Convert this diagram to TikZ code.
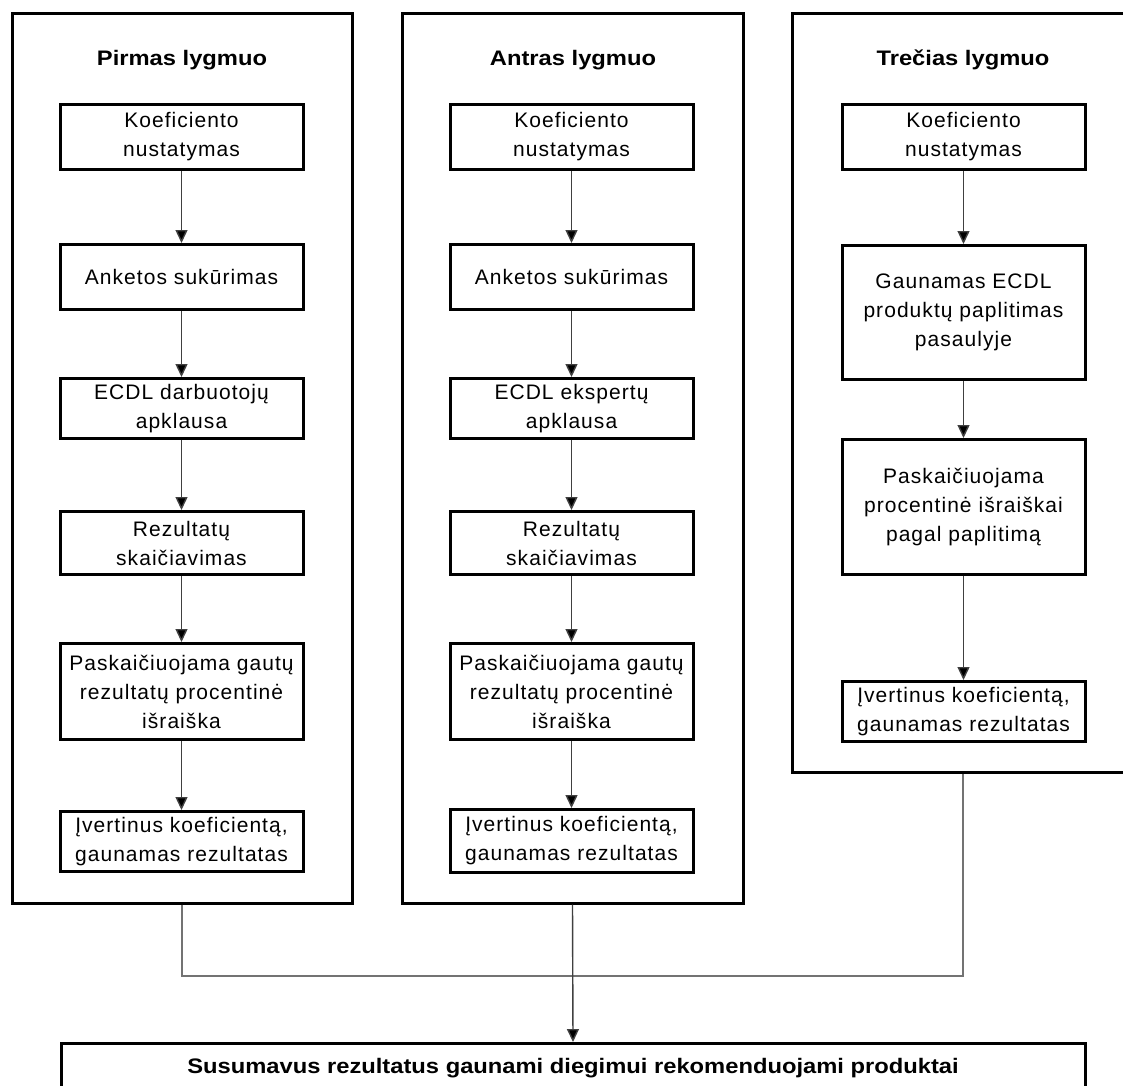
\documentclass[tikz,border=0pt]{standalone}
\usepackage{fontspec}
\setmainfont{Liberation Sans}
\newfontfamily\spaced[LetterSpace=5]{Liberation Sans}
\newfontfamily\widebold{Liberation Sans}[UprightFont=* Bold, FakeStretch=1.13]
\usetikzlibrary{arrows.meta}
\tikzset{
  outerbox/.style={draw, line width=3pt, inner sep=0pt},
  stepbox/.style={draw, line width=3pt, minimum width=243pt, inner sep=0pt, align=center,
    font=\spaced\fontsize{21}{29}\selectfont, anchor=north},
  ttl/.style={font=\widebold\fontsize{21}{25}\selectfont},
  arr/.style={line width=1.4pt, draw=black!75, -{Triangle[width=12pt,length=13pt,fill=black]}},
  joinline/.style={line width=1.6pt, draw=black!55},
}
\begin{document}
\begin{tikzpicture}[x=1pt,y=-1pt]
\useasboundingbox (0,0) rectangle (1123,1085);
\clip (0,0) rectangle (1123,1085);
% outer level boxes
\node[outerbox, minimum width=340pt, minimum height=890pt] (L1) at (182,458) {};
\node[outerbox, minimum width=341pt, minimum height=890pt] (L2) at (572.5,458) {};
\node[outerbox, minimum width=342pt, minimum height=759pt] (L3) at (963,392.5) {};
% titles
\node[ttl] (T1) at (182,60) {Pirmas lygmuo};
\node[ttl] (T2) at (573,60) {Antras lygmuo};
\node[ttl] (T3) at (963,60) {Trečias lygmuo};
% column 1
\node[stepbox, minimum height=65pt] (a1) at (181.5,103) {Koeficiento\\nustatymas};
\node[stepbox, minimum height=65pt] (a2) at (181.5,243) {Anketos sukūrimas};
\node[stepbox, minimum height=60pt] (a3) at (181.5,377) {ECDL darbuotojų\\apklausa};
\node[stepbox, minimum height=63pt] (a4) at (181.5,510) {Rezultatų\\skaičiavimas};
\node[stepbox, minimum height=96pt] (a5) at (181.5,642) {Paskaičiuojama gautų\\rezultatų procentinė\\išraiška};
\node[stepbox, minimum height=60pt] (a6) at (181.5,810) {Įvertinus koeficientą,\\gaunamas rezultatas};
% column 2
\node[stepbox, minimum height=65pt] (b1) at (571.5,103) {Koeficiento\\nustatymas};
\node[stepbox, minimum height=65pt] (b2) at (571.5,243) {Anketos sukūrimas};
\node[stepbox, minimum height=60pt] (b3) at (571.5,377) {ECDL ekspertų\\apklausa};
\node[stepbox, minimum height=63pt] (b4) at (571.5,510) {Rezultatų\\skaičiavimas};
\node[stepbox, minimum height=96pt] (b5) at (571.5,642) {Paskaičiuojama gautų\\rezultatų procentinė\\išraiška};
\node[stepbox, minimum height=63pt] (b6) at (571.5,808) {Įvertinus koeficientą,\\gaunamas rezultatas};
% column 3
\node[stepbox, minimum height=65pt] (c1) at (963.5,103) {Koeficiento\\nustatymas};
\node[stepbox, minimum height=134pt] (c2) at (963.5,244) {Gaunamas ECDL\\produktų paplitimas\\pasaulyje};
\node[stepbox, minimum height=135pt] (c3) at (963.5,438) {Paskaičiuojama\\procentinė išraiškai\\pagal paplitimą};
\node[stepbox, minimum height=60pt] (c4) at (963.5,680) {Įvertinus koeficientą,\\gaunamas rezultatas};
% final box
\node[draw, line width=3pt, minimum width=1024pt, minimum height=50pt, inner sep=0pt,
  font=\widebold\fontsize{21}{25}\selectfont, anchor=north] (fin) at (573,1042)
  {Susumavus rezultatus gaunami diegimui rekomenduojami produktai};
% arrows within columns
\foreach \u/\v in {a1/a2,a2/a3,a3/a4,a4/a5,a5/a6,b1/b2,b2/b3,b3/b4,b4/b5,b5/b6,c1/c2,c2/c3,c3/c4}
  \draw[arr] (\u.south) -- (\v.north);
% joining lines
\coordinate (jl) at (L1.south |- 0,976);
\coordinate (jr) at (L3.south |- 0,976);
\draw[joinline] (L1.south) -- (jl) -- (jr) -- (L3.south);
\draw[arr] (L2.south) -- (fin.north);
\end{tikzpicture}
\end{document}
